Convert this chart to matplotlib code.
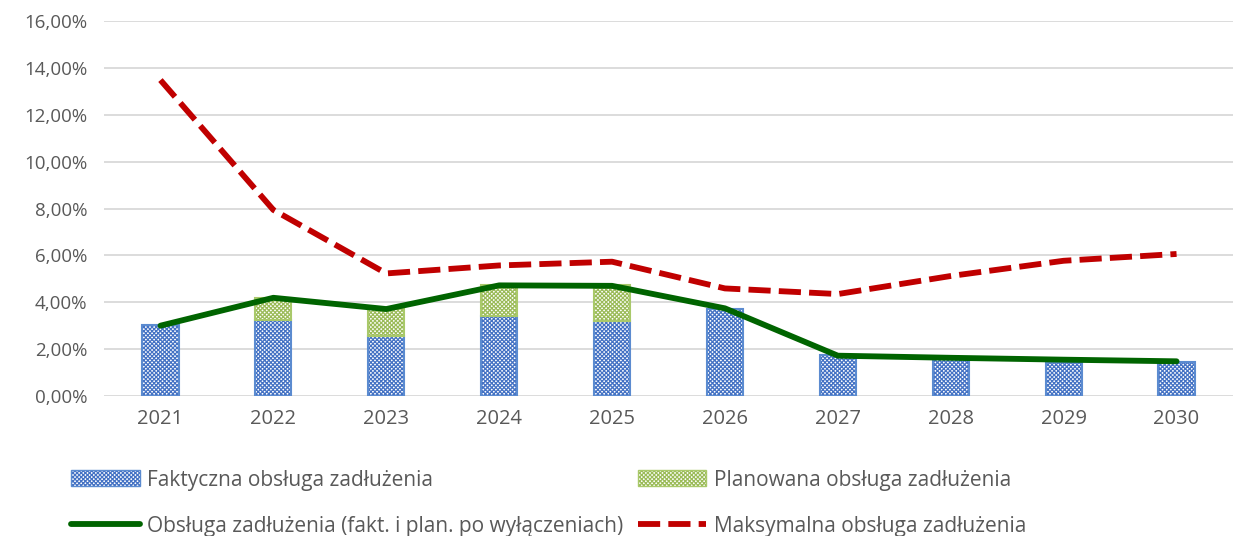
import matplotlib
matplotlib.use("Agg")
import matplotlib.pyplot as plt
from matplotlib.patches import Patch
import matplotlib.colors as mcolors
import numpy as np

years = ["2021", "2022", "2023", "2024", "2025", "2026", "2027", "2028", "2029", "2030"]
faktyczna = [3.03, 3.24, 2.57, 3.43, 3.21, 3.71, 1.73, 1.58, 1.45, 1.46]
planowana = [0.00, 0.93, 1.17, 1.32, 1.52, 0.00, 0.00, 0.00, 0.00, 0.00]
obsluga = [3.00, 4.19, 3.71, 4.72, 4.70, 3.74, 1.72, 1.63, 1.55, 1.48]
maksymalna = [13.48, 7.94, 5.23, 5.57, 5.73, 4.59, 4.35, 5.12, 5.77, 6.06]
yticks = [0, 2, 4, 6, 8, 10, 12, 14, 16]

plt.rcParams['font.family'] = ['Open Sans', 'DejaVu Sans']
plt.rcParams['hatch.linewidth'] = 0.9
txt = '#595959'
BLUE_H = '#4472C4'
BLUE_E = '#5B8BD0'
GREEN_H = '#9BBB59'
GREEN_E = '#A9C96A'
HATCH = 'xxxxxxxx'

fig = plt.figure(figsize=(12.33, 5.36), dpi=100)
ax = fig.add_axes([104/1233, 1 - 396/536, 1 - 104/1233, 375/536])

x = np.arange(len(years))
bw = 0.32
b1 = ax.bar(x, faktyczna, bw, facecolor='white', edgecolor=BLUE_E, hatch=HATCH, linewidth=1.5, zorder=2)
b2 = ax.bar(x, planowana, bw, bottom=faktyczna, facecolor='white', edgecolor=GREEN_E, hatch=HATCH, linewidth=1.5, zorder=2)
for p in b1:
    p._hatch_color = mcolors.to_rgba(BLUE_H)
for p, v in zip(b2, planowana):
    p._hatch_color = mcolors.to_rgba(GREEN_H)
    if v <= 0:
        p.set_visible(False)

l1, = ax.plot(x, obsluga, color='#006400', lw=4.2, solid_capstyle='round', zorder=3)
l2, = ax.plot(x, maksymalna, color='#C00000', lw=4.2, dashes=(3.8, 1.4), zorder=3)

ax.set_xlim(-0.5, len(years) - 0.5)
ax.set_ylim(0, 16)
ax.set_yticks(yticks)
ax.set_yticklabels([f"{v:.2f}".replace('.', ',') + '%' for v in yticks], color=txt, fontsize=13.5)
ax.set_xticks(x)
ax.set_xticklabels(years, color=txt, fontsize=14.5)
ax.tick_params(length=0)
ax.tick_params(axis='x', pad=9)
ax.tick_params(axis='y', pad=12)
ax.grid(axis='y', color='#D9D9D9', lw=1.3, zorder=0)
ax.set_axisbelow(True)
for s in ax.spines.values():
    s.set_visible(False)

h1 = Patch(facecolor='white', edgecolor=BLUE_E, hatch=HATCH)
h1._hatch_color = mcolors.to_rgba(BLUE_H)
h2 = Patch(facecolor='white', edgecolor=GREEN_E, hatch=HATCH)
h2._hatch_color = mcolors.to_rgba(GREEN_H)
handles = [h1, l1, h2, l2]
labels = ["Faktyczna obsługa zadłużenia", "Obsługa zadłużenia (fakt. i plan. po wyłączeniach)",
          "Planowana obsługa zadłużenia", "Maksymalna obsługa zadłużenia"]
leg = fig.legend(handles, labels, ncol=2, loc='lower left', bbox_to_anchor=(52/1233, -0.036),
                 frameon=False, fontsize=15, handlelength=3.3, handleheight=0.8,
                 columnspacing=0.7, labelspacing=1.2, handletextpad=0.35, labelcolor=txt)

fig.savefig('out.png', dpi=100)
